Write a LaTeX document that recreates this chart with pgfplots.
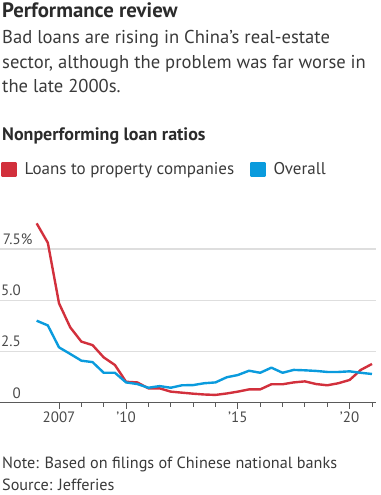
\documentclass[border=0pt]{standalone}
\usepackage{pgfplots}
\pgfplotsset{compat=1.18}
\usepackage{fontspec}
\setmainfont{PT Sans}
\definecolor{wsjred}{HTML}{D2303C}
\definecolor{wsjblue}{HTML}{0A9BDD}
\definecolor{txt}{HTML}{2B2B2B}
\definecolor{body}{HTML}{3A3A3A}
\definecolor{ticktxt}{HTML}{4A4A4A}
\definecolor{gridc}{HTML}{DEDEDE}
\definecolor{axisc}{HTML}{5A5A5A}
\begin{document}
\begin{tikzpicture}
\useasboundingbox (0pt,0pt) rectangle (380pt,-495pt);
\node[anchor=base west, inner sep=0pt, font=\fontsize{20.8}{24}\selectfont\bfseries, text=txt] at (2pt,-17.5pt) {Performance review};
\node[anchor=base west, inner sep=0pt, font=\fontsize{18.6}{20}\selectfont, text=body] at (2pt,-43.3pt) {Bad loans are rising in China’s real-estate};
\node[anchor=base west, inner sep=0pt, font=\fontsize{18.6}{20}\selectfont, text=body] at (2pt,-68.3pt) {sector, although the problem was far worse in};
\node[anchor=base west, inner sep=0pt, font=\fontsize{18.6}{20}\selectfont, text=body] at (2pt,-92.7pt) {the late 2000s.};
\node[anchor=base west, inner sep=0pt, font=\fontsize{18}{19}\selectfont\bfseries, text=txt] at (2pt,-140pt) {Nonperforming loan ratios};
\node[anchor=base west, inner sep=0pt, font=\fontsize{16.2}{17}\selectfont, text=body] at (2pt,-468.3pt) {Note: Based on filings of Chinese national banks};
\node[anchor=base west, inner sep=0pt, font=\fontsize{16.2}{17}\selectfont, text=body] at (2pt,-490.7pt) {Source: Jefferies};
\begin{axis}[
  at={(0pt,-402.7pt)}, anchor=south west,
  scale only axis, width=376pt, height=184.5pt,
  xmin=2004.36, xmax=2021.18, ymin=0, ymax=9,
  axis x line*=bottom, axis y line*=left,
  x axis line style={draw=axisc, line width=1pt, -},
  y axis line style={draw=none},
  xtick={2007,2010,2015,2020},
  xticklabels={2007,’10,’15,’20},
  minor xtick={2008,2009,2011,2012,2013,2014,2016,2017,2018,2019,2021},
  xtick align=outside,
  major tick length=6pt, minor tick length=4pt,
  xtick style={draw=axisc, line width=0.9pt},
  ytick style={draw=none},
  xticklabel style={font=\fontsize{15}{17}\selectfont, text=ticktxt, anchor=base, inner sep=0pt},
  xticklabel shift=14pt,
  ytick={0,2.5,5,7.5},
  yticklabels={0,2.5,5.0,7.5\rlap{\%}},
  ymajorgrids, major grid style={draw=gridc, line width=1.2pt},
  yticklabel style={font=\fontsize{15}{17}\selectfont, text=ticktxt, anchor=base east, inner sep=0pt, xshift=21pt, yshift=4.5pt},
  /pgf/number format/assume math mode=true,
  legend columns=2,
  legend style={draw=none, fill=none, at={(0.003,1.264)}, anchor=west, inner sep=0pt,
    font=\fontsize{17}{20}\selectfont, text=body,
    nodes={inner sep=0pt, anchor=west},
    /tikz/every even column/.append style={column sep=16pt}},
  legend image code/.code={\fill (0pt,-6.5pt) rectangle (13pt,6.5pt); \path (21pt,0pt);},
  clip=false,
]
\addplot[color=wsjred, line width=2.4pt, line join=round] coordinates {
(2006.0,8.75) (2006.5,7.80) (2007.0,4.85) (2007.5,3.68) (2008.0,2.98) (2008.5,2.81)
(2009.0,2.21) (2009.5,1.84) (2010.0,1.02) (2010.5,0.99) (2011.0,0.70) (2011.5,0.70)
(2012.0,0.54) (2012.5,0.49) (2013.0,0.44) (2013.5,0.40) (2014.0,0.38) (2014.5,0.45)
(2015.0,0.54) (2015.5,0.65) (2016.0,0.65) (2016.5,0.90) (2017.0,0.90) (2017.5,0.99)
(2018.0,1.04) (2018.5,0.91) (2019.0,0.85) (2019.5,0.95) (2020.0,1.11) (2020.5,1.60)
(2021.0,1.89)};
\addlegendentry{Loans to property companies}
\addplot[color=wsjblue, line width=2.4pt, line join=round] coordinates {
(2006.0,4.00) (2006.5,3.77) (2007.0,2.70) (2007.5,2.38) (2008.0,2.05) (2008.5,1.98)
(2009.0,1.46) (2009.5,1.46) (2010.0,0.99) (2010.5,0.91) (2011.0,0.73) (2011.5,0.81)
(2012.0,0.73) (2012.5,0.85) (2013.0,0.86) (2013.5,0.95) (2014.0,0.99) (2014.5,1.24)
(2015.0,1.35) (2015.5,1.56) (2016.0,1.46) (2016.5,1.71) (2017.0,1.46) (2017.5,1.60)
(2018.0,1.58) (2018.5,1.55) (2019.0,1.50) (2019.5,1.50) (2020.0,1.53) (2020.5,1.46)
(2021.0,1.40)};
\addlegendentry{Overall}
\end{axis}
\end{tikzpicture}
\end{document}
